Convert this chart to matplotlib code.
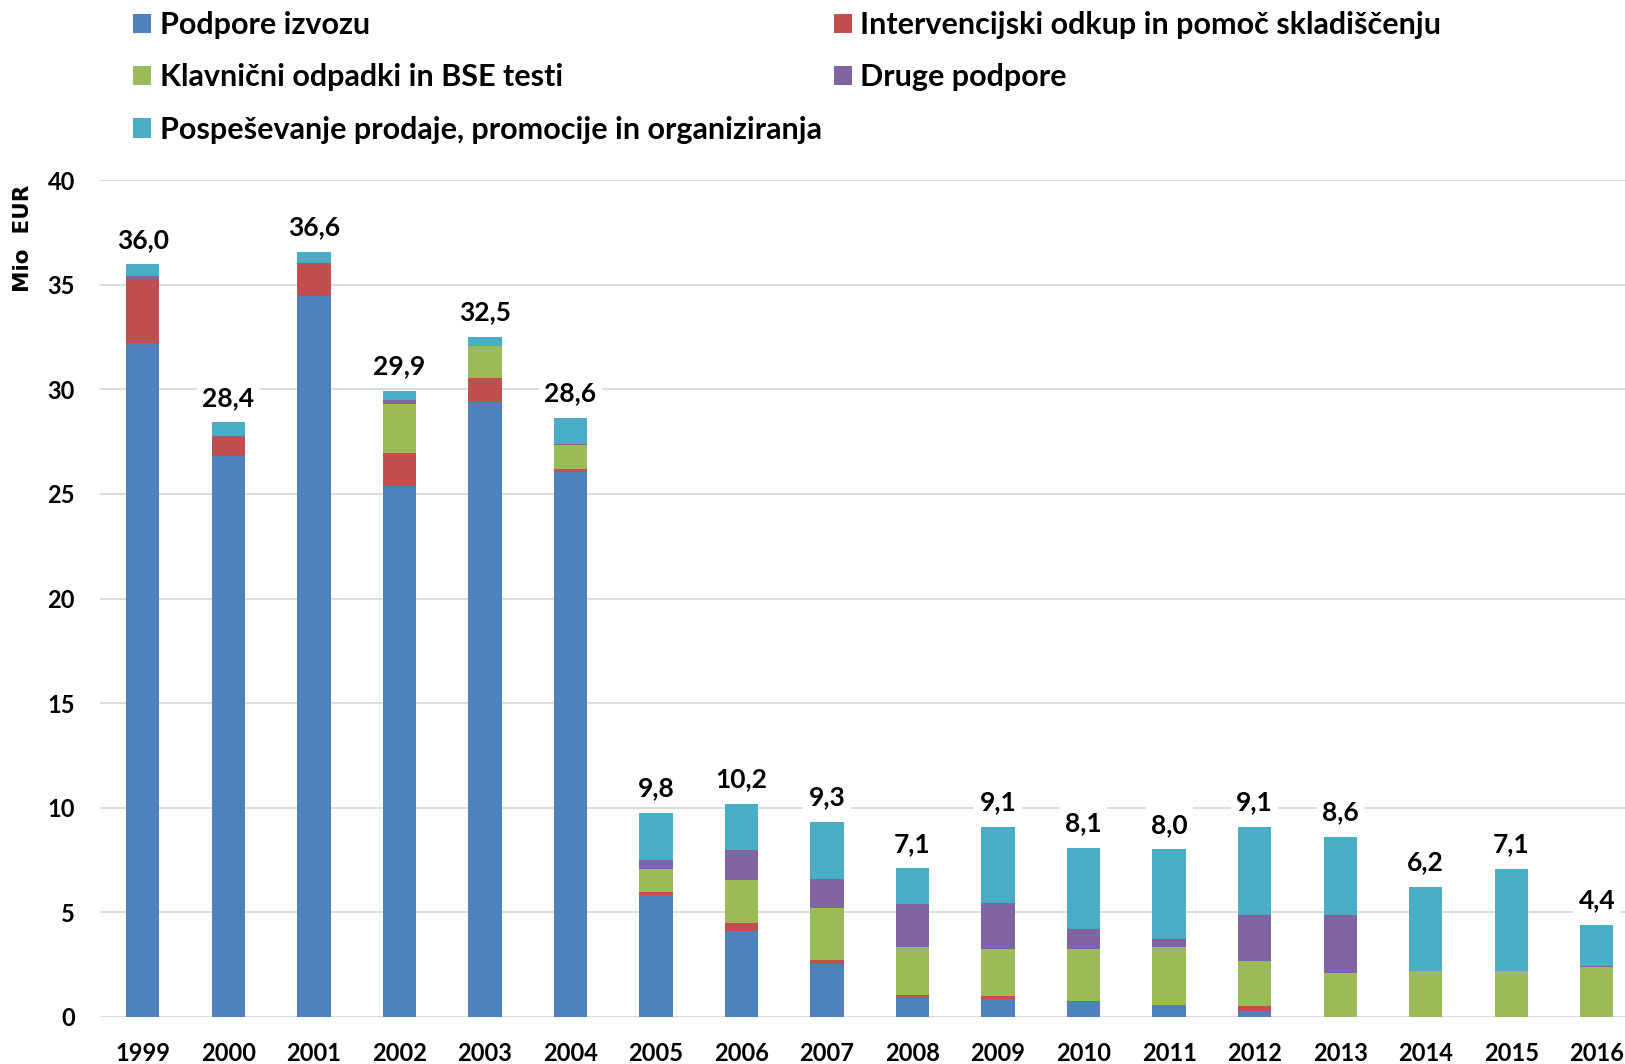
import matplotlib
matplotlib.use("Agg")
import matplotlib.pyplot as plt
import numpy as np

plt.rcParams['font.family'] = ['Lato', 'DejaVu Sans']
plt.rcParams['font.weight'] = 'bold'

years = [str(y) for y in range(1999, 2017)]

# Mio EUR po ukrepih
podpore_izvozu = [32.24, 26.82, 34.47, 25.40, 29.42, 26.04, 5.82, 4.10, 2.52, 0.88,
                  0.83, 0.72, 0.56, 0.29, 0.0, 0.0, 0.0, 0.0]
intervencijski = [3.03, 0.88, 1.58, 1.58, 1.12, 0.16, 0.13, 0.37, 0.19, 0.16,
                  0.14, 0.05, 0.0, 0.22, 0.0, 0.0, 0.0, 0.0]
klavnicni = [0.0, 0.0, 0.0, 2.33, 1.54, 1.15, 1.12, 2.07, 2.51, 2.31,
             2.27, 2.47, 2.79, 2.15, 2.09, 2.17, 2.17, 2.38]
druge = [0.15, 0.05, 0.0, 0.18, 0.0, 0.06, 0.43, 1.43, 1.37, 2.02,
         2.18, 0.95, 0.37, 2.22, 2.79, 0.03, 0.03, 0.04]
pospesevanje = [0.57, 0.67, 0.52, 0.45, 0.43, 1.22, 2.26, 2.21, 2.74, 1.72,
                3.65, 3.88, 4.29, 4.19, 3.72, 4.00, 4.87, 1.98]

series = [
    ("Podpore izvozu", podpore_izvozu, "#4F81BD"),
    ("Intervencijski odkup in pomoč skladiščenju", intervencijski, "#C0504D"),
    ("Klavnični odpadki in BSE testi", klavnicni, "#9BBB59"),
    ("Druge podpore", druge, "#8064A2"),
    ("Pospeševanje prodaje, promocije in organiziranja", pospesevanje, "#4BACC6"),
]

fig = plt.figure(figsize=(16.25, 10.64), dpi=100)
ax = fig.add_axes([100 / 1625, 1 - 1016.7 / 1064, 1 - 100 / 1625, (1016.7 - 180.3) / 1064])

x = np.arange(len(years))
bottom = np.zeros(len(years))
handles = {}
for name, vals, col in series:
    b = ax.bar(x, vals, width=0.39, bottom=bottom, color=col, linewidth=0, label=name, zorder=3)
    handles[name] = b
    bottom += np.array(vals)

for xi, tot in zip(x, bottom):
    ax.annotate(f"{tot:.1f}".replace('.', ','), (xi, tot), xytext=(0, 9), textcoords='offset points',
                ha='center', va='bottom', fontsize=19, fontweight='bold', color='black', zorder=5,
                bbox=dict(boxstyle='square,pad=0.2', fc='white', ec='none'))

ax.set_ylim(0, 40)
ax.set_xlim(-0.5, 17.33)
ax.set_yticks(range(0, 41, 5))
ax.set_xticks(x)
ax.set_xticklabels(years)
ax.tick_params(axis='both', length=0, labelsize=17, colors='black')
ax.tick_params(axis='x', pad=18)
ax.tick_params(axis='y', pad=18)
for lab in ax.get_xticklabels() + ax.get_yticklabels():
    lab.set_fontweight('bold')
ax.grid(axis='y', color='#D9D9D9', linewidth=1.3, zorder=0)
ax.set_axisbelow(True)
for s in ax.spines.values():
    s.set_visible(False)

fig.text(23 / 1625, 1 - 238 / 1064, "Mio  EUR", rotation=90, ha='center', va='center',
         fontsize=15.5, fontweight='bold', color='black', family='DejaVu Sans')

order = [0, 2, 4, 1, 3]
hl = [handles[series[i][0]] for i in order]
ll = [series[i][0] for i in order]
fig.legend(hl, ll, ncol=2, loc='upper left', bbox_to_anchor=(133 / 1625, 1 - 11 / 1064),
           frameon=False, borderpad=0, borderaxespad=0,
           handlelength=0.6, handleheight=0.6, handletextpad=0.28,
           labelspacing=0.8, columnspacing=0.38, prop={'weight': 'bold', 'size': 22})

fig.savefig("out.png", dpi=100)
